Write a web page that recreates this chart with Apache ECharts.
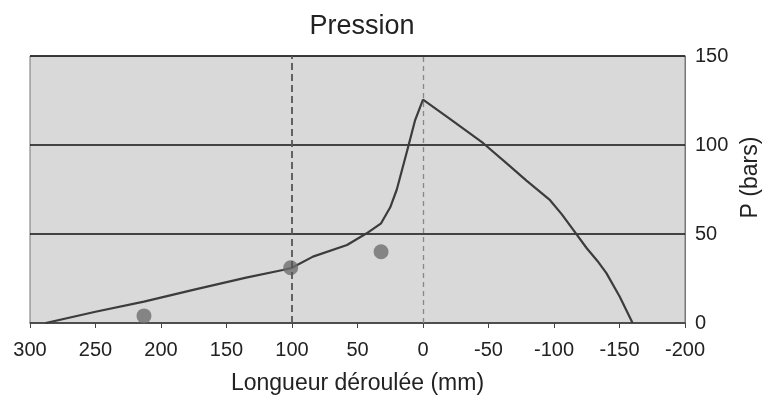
<!DOCTYPE html>
<html>
<head>
<meta charset="utf-8">
<script src="https://cdn.jsdelivr.net/npm/echarts@6/dist/echarts.min.js"></script>
<style>
  html, body { margin: 0; padding: 0; background: #fff; }
  #chart { width: 775px; height: 401px; }
</style>
</head>
<body>
<div id="chart"></div>
<script>
// pressure curve, x = unrolled length (mm), y = pressure (bars)
const curveX = [288, 250, 213, 173, 135, 107, 100, 84, 58, 43, 32, 25, 20, 12, 6, 0, -20, -46, -65, -79, -97, -106, -115, -125, -133, -140, -150, -160];
const curveY = [0, 6.3, 12, 19, 25.5, 29.8, 31, 37.3, 43.8, 50.4, 56, 65, 75, 97, 114, 125.5, 115, 101, 89, 80, 69, 61, 52, 42, 35, 28, 15, 0];

// measured points
const measX = [213, 101, 32];
const measY = [4, 31, 40];

// dashed reference verticals
const refLines = [100, 0];

const xTicks = { min: -200, max: 300, step: 50 };
const yTicks = { min: 0, max: 150, step: 50 };

const font = 'Liberation Sans, Arial, sans-serif';

let chart = echarts.init(document.getElementById('chart'));

chart.setOption({
	animation: false,
	title: {
		text: 'Pression',
		left: 357,
		textAlign: 'center',
		top: 8,
		textStyle: { fontFamily: font, fontSize: 27, fontWeight: 'normal', color: '#222' }
	},
	grid: {
		left: 30, right: 90, top: 56, bottom: 78,
		show: true,
		backgroundColor: '#d9d9d9',
		borderColor: '#777',
		borderWidth: 1
	},
	xAxis: {
		type: 'value',
		inverse: true,
		min: xTicks.min, max: xTicks.max, interval: xTicks.step,
		name: 'Longueur déroulée (mm)',
		nameLocation: 'middle',
		nameGap: 49,
		nameTextStyle: { fontFamily: font, fontSize: 23, color: '#222' },
		axisLine: { show: true, onZero: false, lineStyle: { color: '#555', width: 1.5 } },
		axisTick: { show: true, length: 5, lineStyle: { color: '#444' } },
		axisLabel: { margin: 17, fontFamily: font, fontSize: 20, color: '#222' },
		splitLine: { show: false }
	},
	yAxis: {
		type: 'value',
		position: 'right',
		min: yTicks.min, max: yTicks.max, interval: yTicks.step,
		name: 'P (bars)',
		nameLocation: 'middle',
		nameRotate: 90,
		nameGap: 51,
		nameTextStyle: { fontFamily: font, fontSize: 23, color: '#222', padding: [0, 0, 0, 24] },
		axisLine: { show: true, onZero: false, lineStyle: { color: '#777' } },
		axisTick: { show: false },
		axisLabel: { margin: 10, fontFamily: font, fontSize: 20, color: '#222' },
		splitLine: { show: true, lineStyle: { color: '#111', width: 1.6 } }
	},
	series: [{
		type: 'line',
		data: curveX.map((x, i) => [x, curveY[i]]),
		showSymbol: false,
		lineStyle: { color: '#3c3c3c', width: 2.2 },
		z: 3,
		markLine: {
			silent: true,
			symbol: 'none',
			label: { show: false },
			data: refLines.map((v, i) => ({
				xAxis: v,
				lineStyle: i === 0
					? { color: '#555', type: [7, 4], width: 1.8 }
					: { color: '#888', type: [5, 4], width: 1.3 }
			}))
		}
	}, {
		type: 'scatter',
		data: measX.map((x, i) => [x, measY[i]]),
		symbolSize: 15,
		itemStyle: { color: '#6e6e6e' },
		z: 4
	}]
});
</script>
</body>
</html>
